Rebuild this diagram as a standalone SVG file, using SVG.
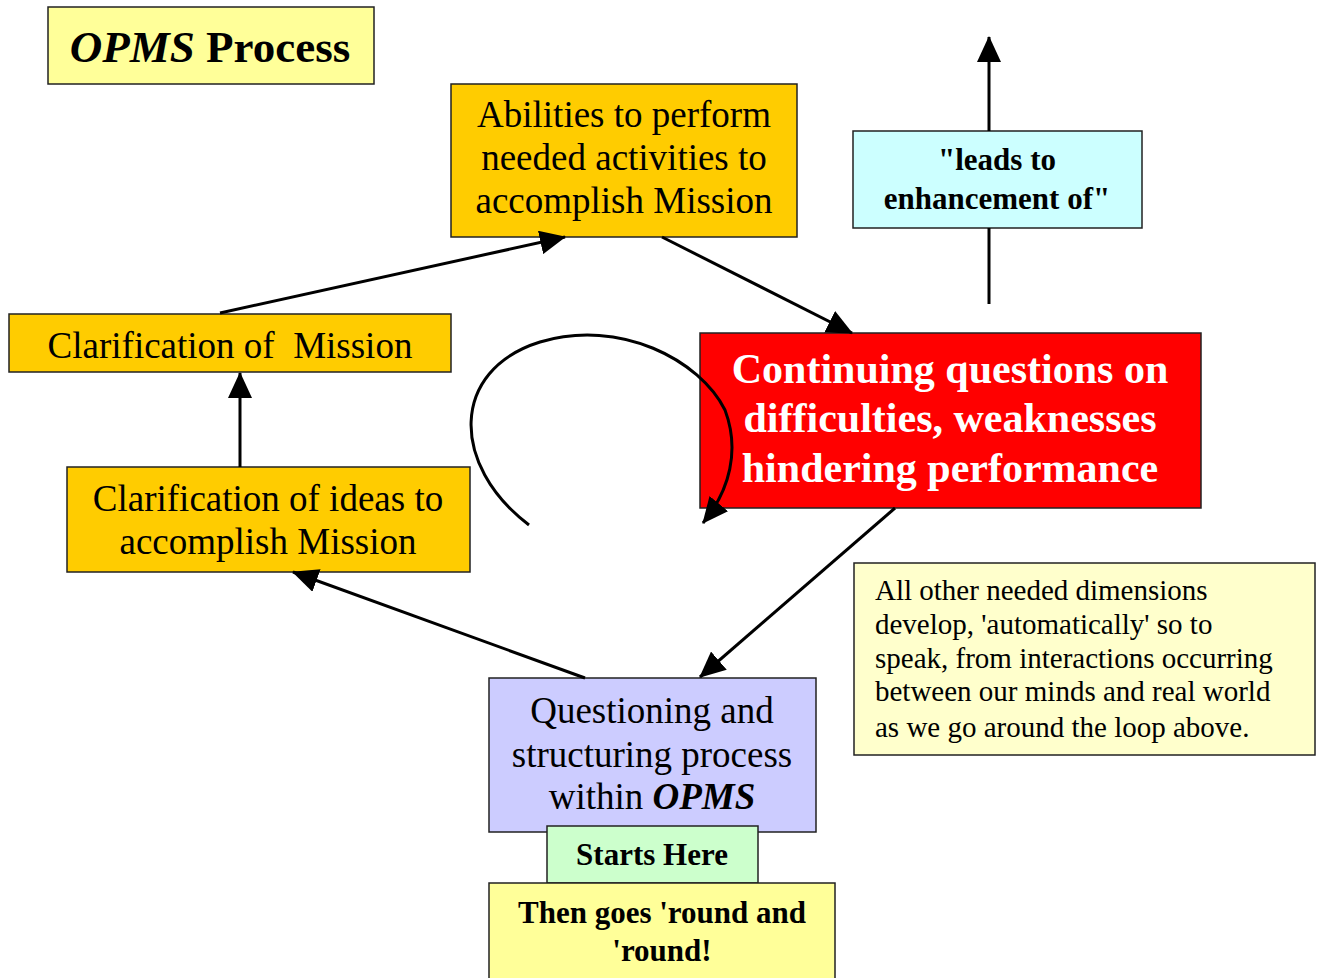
<svg xmlns="http://www.w3.org/2000/svg" width="1321" height="978" viewBox="0 0 1321 978">
<style>
.box{stroke:#222;stroke-width:1.5}
.t{font-family:"Liberation Serif","Times New Roman",serif;fill:#000;text-anchor:middle}
.b{font-weight:bold}
.w{fill:#fff}
.ln{stroke:#000;stroke-width:3;fill:none}
</style>
<defs>
<marker id="ah" markerUnits="userSpaceOnUse" viewBox="0 0 26 24" refX="25" refY="12" markerWidth="26" markerHeight="24" orient="auto">
<path d="M0,0 L26,12 L0,24 z" fill="#000"/>
</marker>
</defs>
<rect width="1321" height="978" fill="#fff"/>

<g id="title">
<rect class="box" x="48" y="7" width="326" height="77" fill="#FFFF99"/>
<text class="t b" x="210" y="62" font-size="45"><tspan font-style="italic">OPMS</tspan> Process</text>
</g>

<g id="abilities">
<rect class="box" x="451" y="84" width="346" height="153" fill="#FFCC00"/>
<text class="t" x="624" y="127" font-size="37">Abilities to perform</text>
<text class="t" x="624" y="170" font-size="37">needed activities to</text>
<text class="t" x="624" y="213" font-size="37">accomplish Mission</text>
</g>

<g id="clar-mission">
<rect class="box" x="9" y="314" width="442" height="58" fill="#FFCC00"/>
<text class="t" x="230" y="358" font-size="37" style="white-space:pre">Clarification of  Mission</text>
</g>

<g id="clar-ideas">
<rect class="box" x="67" y="467" width="403" height="105" fill="#FFCC00"/>
<text class="t" x="268" y="511" font-size="37">Clarification of ideas to</text>
<text class="t" x="268" y="554" font-size="37">accomplish Mission</text>
</g>

<g id="continuing">
<rect class="box" x="700" y="333" width="501" height="175" fill="#FF0000"/>
<text class="t b w" x="950" y="383" font-size="42">Continuing questions on</text>
<text class="t b w" x="950" y="432" font-size="42">difficulties, weaknesses</text>
<text class="t b w" x="950" y="482" font-size="42">hindering performance</text>
</g>

<g id="leads">
<rect class="box" x="853" y="131" width="289" height="97" fill="#CCFFFF"/>
<text class="t b" x="997" y="170" font-size="31">"leads to</text>
<text class="t b" x="997" y="209" font-size="31">enhancement of"</text>
</g>

<g id="note">
<rect class="box" x="854" y="563" width="461" height="192" fill="#FFFFCC"/>
<g class="t" font-size="29" text-anchor="start" style="text-anchor:start">
<text x="875" y="600">All other needed dimensions</text>
<text x="875" y="634">develop, 'automatically' so to</text>
<text x="875" y="668">speak, from interactions occurring</text>
<text x="875" y="701">between our minds and real world</text>
<text x="875" y="737">as we go around the loop above.</text>
</g>
</g>

<g id="questioning">
<rect class="box" x="489" y="678" width="327" height="154" fill="#CCCCFF"/>
<text class="t" x="652" y="723" font-size="37">Questioning and</text>
<text class="t" x="652" y="767" font-size="37">structuring process</text>
<text class="t" x="652" y="809" font-size="37">within <tspan font-weight="bold" font-style="italic">OPMS</tspan></text>
</g>

<g id="starts">
<rect class="box" x="547" y="826" width="211" height="57" fill="#CCFFCC"/>
<text class="t b" x="652" y="865" font-size="31">Starts Here</text>
</g>

<g id="then">
<rect class="box" x="489" y="883" width="346" height="100" fill="#FFFF99"/>
<text class="t b" x="662" y="923" font-size="31">Then goes 'round and</text>
<text class="t b" x="662" y="961" font-size="31">'round!</text>
</g>

<g id="connectors">
<line class="ln" x1="220" y1="313" x2="565" y2="237" marker-end="url(#ah)"/>
<line class="ln" x1="662" y1="237" x2="852" y2="333" marker-end="url(#ah)"/>
<line class="ln" x1="895" y1="508" x2="700" y2="677" marker-end="url(#ah)"/>
<line class="ln" x1="585" y1="678" x2="293" y2="572" marker-end="url(#ah)"/>
<line class="ln" x1="240" y1="467" x2="240" y2="373" marker-end="url(#ah)"/>
<line class="ln" x1="989" y1="304" x2="989" y2="228"/>
<line class="ln" x1="989" y1="131" x2="989" y2="37" marker-end="url(#ah)"/>
<path class="ln" d="M529,525 C450,465 450,370 540,342 C620,318 700,360 725,410 C740,450 730,490 703,523" marker-end="url(#ah)"/>
</g>
</svg>
